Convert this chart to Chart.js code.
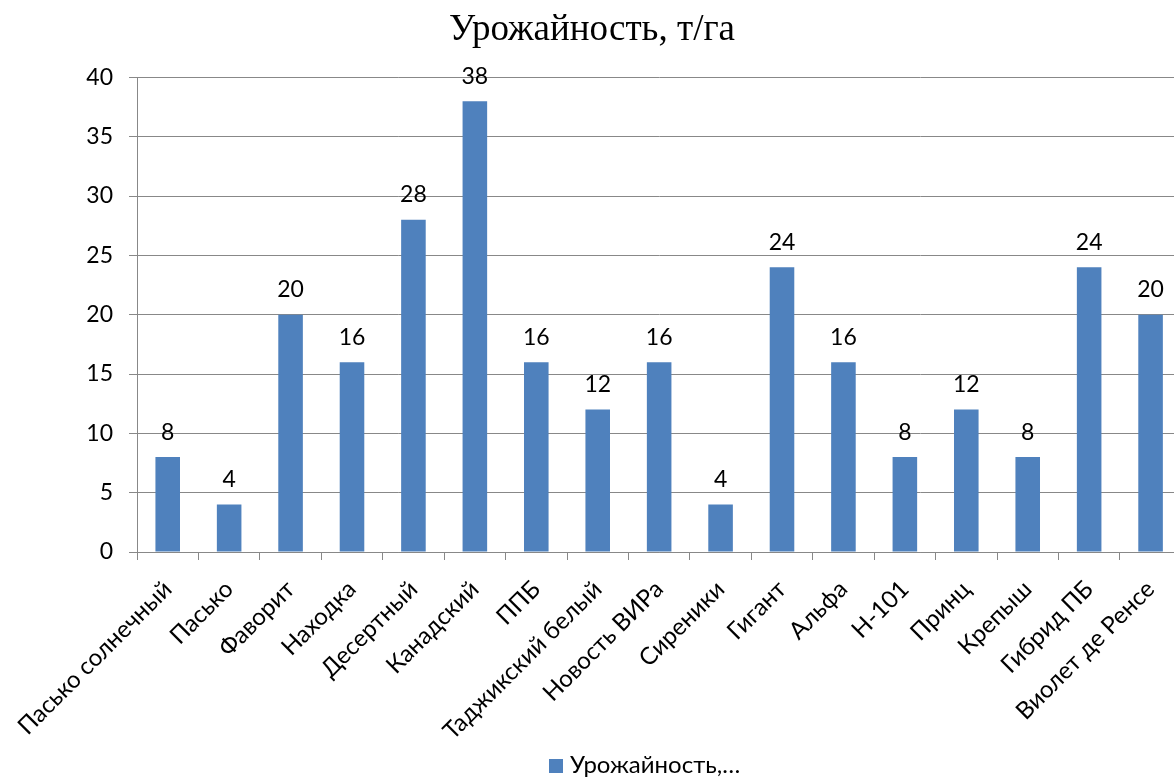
<!DOCTYPE html>
<html>
<head>
<meta charset="utf-8">
<script src="https://cdn.jsdelivr.net/npm/chart.js@4.4.0/dist/chart.umd.min.js"></script>
<style>
  html, body { margin: 0; padding: 0; background: #fff; overflow: hidden; width: 1174px; height: 778px; }
  #wrap { position: absolute; left: 0; top: 0; width: 1186px; height: 778px; }
  #legend { position: absolute; left: 549px; top: 751px; font-family: Lato, "Noto Sans", sans-serif; font-size: 24px; color: #000; white-space: nowrap; line-height: 26px; }
  #legend span.sw { display: inline-block; width: 14px; height: 14px; background: #4F81BD; margin-right: 7px; vertical-align: 0px; }
</style>
</head>
<body>
<div id="wrap"><canvas id="c"></canvas></div>
<div id="legend"><span class="sw"></span>Урожайность,…</div>
<script>
const categories = ["Пасько солнечный", "Пасько", "Фаворит", "Находка", "Десертный", "Канадский", "ППБ", "Таджикский белый", "Новость ВИРа", "Сиреники", "Гигант", "Альфа", "Н-101", "Принц", "Крепыш", "Гибрид ПБ", "Виолет де Ренсе"];
const yields = [8, 4, 20, 16, 28, 38, 16, 12, 16, 4, 24, 16, 8, 12, 8, 24, 20];
const seriesName = "Урожайность, т/га";
const titleText = "Урожайность, т/га";

const valueLabels = {
  id: 'valueLabels',
  afterDatasetsDraw(chart) {
    const ctx = chart.ctx;
    const meta = chart.getDatasetMeta(0);
    ctx.save();
    ctx.font = '23px Lato, "Noto Sans", sans-serif';
    ctx.fillStyle = '#000';
    ctx.textAlign = 'center';
    ctx.textBaseline = 'middle';
    meta.data.forEach((bar, i) => {
      ctx.fillText(String(chart.data.datasets[0].data[i]), bar.x, bar.y - 25);
    });
    ctx.restore();
  }
};

new Chart(document.getElementById('c'), {
  type: 'bar',
  data: {
    labels: categories,
    datasets: [{
      label: seriesName,
      data: yields,
      backgroundColor: '#4F81BD',
      borderWidth: 0,
      categoryPercentage: 1.0,
      barPercentage: 0.4
    }]
  },
  options: {
    responsive: true,
    maintainAspectRatio: false,
    animation: false,
    layout: { padding: { left: 0, right: 2, top: 0, bottom: 0 } },
    plugins: {
      legend: { display: false },
      tooltip: { enabled: false },
      title: {
        display: true,
        text: titleText,
        color: '#000',
        font: { family: '"Liberation Serif", "Times New Roman", serif', size: 37, weight: 'normal' },
        padding: { top: 8, bottom: 25 }
      }
    },
    scales: {
      y: {
        min: 0, max: 40,
        ticks: { stepSize: 5, color: '#000', padding: 16, font: { family: 'Lato, "Noto Sans", sans-serif', size: 23 } },
        grid: { color: '#888', lineWidth: 1, tickLength: 8 },
        border: { display: true, color: '#888', width: 1 },
        afterFit(scale) { scale.width = 137; }
      },
      x: {
        ticks: { color: '#000', maxRotation: 45, minRotation: 45, autoSkip: false, padding: 15, font: { family: 'Lato, "Noto Sans", sans-serif', size: 24 } },
        grid: { drawOnChartArea: false, drawTicks: true, tickLength: 8, color: '#888', offset: true },
        border: { display: true, color: '#888', width: 1 },
        afterFit(scale) { scale.height = 226; }
      }
    }
  },
  plugins: [valueLabels]
});
</script>
</body>
</html>
